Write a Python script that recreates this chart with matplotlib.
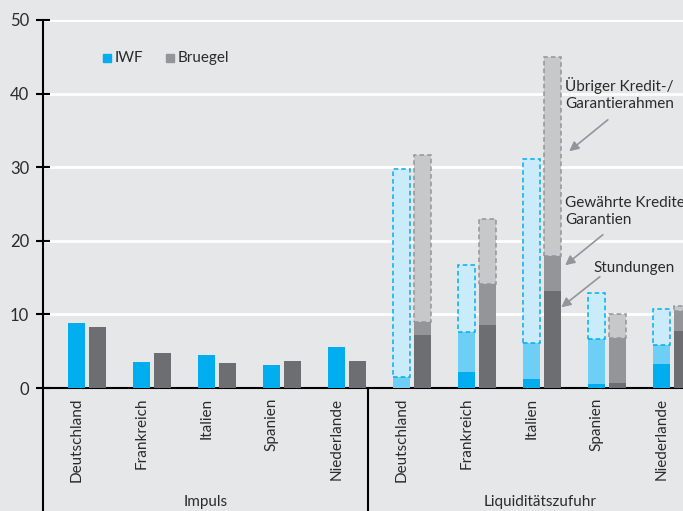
"""Impuls vs. Liquiditätszufuhr — IWF vs. Bruegel, in % of GDP."""

import matplotlib
matplotlib.use("Agg")
import matplotlib.pyplot as plt
from matplotlib.patches import Rectangle

# ── data ──────────────────────────────────────────────────────────────
countries = ["Deutschland", "Frankreich", "Italien", "Spanien", "Niederlande"]
groups = ["Impuls", "Liquiditätszufuhr"]

impuls_iwf = [8.8, 3.6, 4.5, 3.1, 5.6]
impuls_bruegel = [8.3, 4.75, 3.45, 3.65, 3.65]

# Liquiditätszufuhr, stacked: Stundungen / Gewährte Kredite / Übriger Rahmen
liq_iwf_stund = [0.0, 2.2, 1.2, 0.5, 3.3]
liq_iwf_gew = [1.5, 5.45, 4.85, 6.1, 2.5]
liq_iwf_uebr = [28.2, 9.05, 25.05, 6.35, 5.0]

liq_br_stund = [7.2, 8.55, 13.2, 0.7, 7.8]
liq_br_gew = [1.7, 5.55, 4.8, 6.15, 2.6]
liq_br_uebr = [22.7, 8.8, 27.0, 3.15, 0.75]

# ── style ─────────────────────────────────────────────────────────────
BG = "#e6e7e8"
INK = "#2b2b2b"
BLUE = ["#00aeef", "#6dcff6", "#c9ebfa"]
GREY = ["#6d6e71", "#939598", "#c7c8ca"]
W = 0.26          # bar width (group spacing = 1)
OFF = 0.162       # offset of each bar from group centre
FS = 11


def px_ax(px, py):
    """pixel position in the 683x511 canvas -> axes fraction"""
    return (px - 43) / 640, (388 - py) / 368


def main():
    plt.rcParams["font.family"] = ["Lato", "DejaVu Sans"]
    plt.rcParams["text.color"] = INK
    fig = plt.figure(figsize=(6.83, 5.11), dpi=100, facecolor=BG)
    ax = fig.add_axes([43 / 683, 123 / 511, 640 / 683, 368 / 511])
    ax.set_facecolor(BG)

    n = len(countries)
    x_imp = list(range(n))
    x_liq = [i + n for i in range(n)]

    # Impuls
    ax.bar([x - OFF for x in x_imp], impuls_iwf, W, color=BLUE[0], zorder=3)
    ax.bar([x + OFF for x in x_imp], impuls_bruegel, W, color=GREY[0], zorder=3)

    # Liquiditätszufuhr, stacked
    for xs, segs, cols, dash in (
        ([x - OFF for x in x_liq], (liq_iwf_stund, liq_iwf_gew, liq_iwf_uebr),
         BLUE, BLUE[0]),
        ([x + OFF for x in x_liq], (liq_br_stund, liq_br_gew, liq_br_uebr),
         GREY, GREY[1]),
    ):
        bottom = [0.0] * n
        for k, seg in enumerate(segs):
            if k == 2:
                ax.bar(xs, seg, W, bottom=bottom, color=cols[2], edgecolor=dash,
                       linestyle=(0, (3, 2)), linewidth=1.1, zorder=3)
            else:
                ax.bar(xs, seg, W, bottom=bottom, color=cols[k], zorder=3)
            bottom = [b + s for b, s in zip(bottom, seg)]

    # axes
    ax.set_xlim(-0.677, 9.169)
    ax.set_ylim(0, 50)
    ax.set_yticks(range(0, 51, 10))
    ax.tick_params(axis="y", direction="inout", length=10, width=1.5,
                   labelsize=FS + 1, labelcolor=INK, pad=5)
    ax.yaxis.grid(True, color="white", lw=2, zorder=0)
    ax.set_axisbelow(True)

    ax.set_xticks([x - OFF for x in x_imp + x_liq])
    ax.set_xticklabels(countries * 2, rotation=90, va="top", fontsize=FS,
                       color=INK)
    ax.tick_params(axis="x", length=0, pad=7)

    for s in ("top", "right"):
        ax.spines[s].set_visible(False)
    for s in ("left", "bottom"):
        ax.spines[s].set_linewidth(1.5)

    # category frame below the axis
    ax.axvline(-0.677, ymin=-123 / 368, ymax=0, color="black", lw=1.5,
               clip_on=False)
    ax.axvline(4.323, ymin=-123 / 368, ymax=0, color="black", lw=1.5,
               clip_on=False)
    xt = ax.get_xaxis_transform()
    ax.text(1.823, -0.29, groups[0], transform=xt, ha="center", va="top",
            fontsize=FS)
    ax.text(6.97, -0.29, groups[1], transform=xt, ha="center", va="top",
            fontsize=FS)

    # legend
    for px, col, lab in ((103, BLUE[0], "IWF"), (166, GREY[1], "Bruegel")):
        x0, y0 = px_ax(px, 62)
        ax.add_patch(Rectangle((x0, y0), 8 / 640, 8 / 368, color=col,
                               transform=ax.transAxes, clip_on=False))
        tx, ty = px_ax(px + 12, 58)
        ax.text(tx, ty, lab, transform=ax.transAxes, va="center",
                fontsize=FS)

    # annotations
    arrow = dict(arrowstyle="-|>", color=GREY[1], lw=1.2, mutation_scale=14)
    ax.text(7.354, 42.3, "Übriger Kredit-/\nGarantierahmen", va="top",
            fontsize=FS, linespacing=1.3)
    ax.annotate("", xy=(7.385, 31.93), xytext=(8.046, 36.68), arrowprops=arrow)
    ax.text(7.354, 26.1, "Gewährte Kredite/\nGarantien", va="top",
            fontsize=FS, linespacing=1.3)
    ax.annotate("", xy=(7.323, 16.44), xytext=(7.969, 21.06), arrowprops=arrow)
    ax.text(7.785, 17.3, "Stundungen", va="top", fontsize=FS)
    ax.annotate("", xy=(7.262, 10.73), xytext=(7.923, 15.35), arrowprops=arrow)

    fig.savefig("out.png", dpi=100, facecolor=BG)
    plt.close(fig)


if __name__ == "__main__":
    main()
